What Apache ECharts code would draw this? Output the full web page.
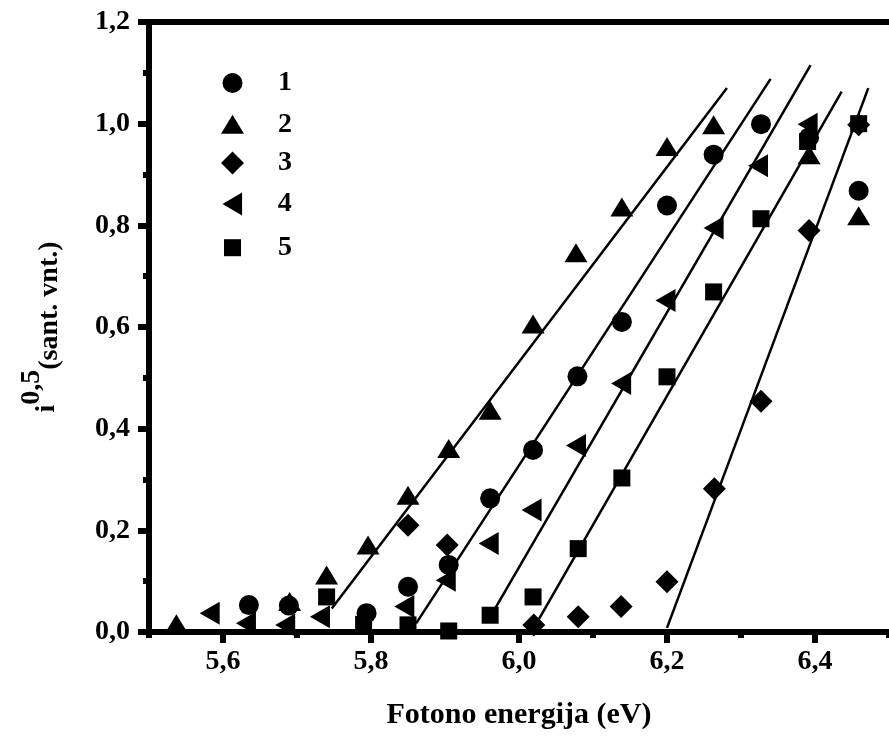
<!DOCTYPE html>
<html lang="lt">

<head>
    <meta charset="UTF-8">
    <title>Fotono energija</title>
    <script src="https://cdn.jsdelivr.net/npm/echarts@6.0.0/dist/echarts.min.js"></script>
    <style>
        html, body {
            margin: 0;
            padding: 0;
            background: #fff;
        }

        #main {
            width: 889px;
            height: 736px;
        }
    </style>
</head>

<body>
    <div id="main"></div>

    <script>
        // measured points, one pair of arrays per sample
        const s1x = [5.635, 5.689, 5.794, 5.85, 5.905, 5.961, 6.019, 6.079, 6.139, 6.2, 6.263, 6.327, 6.392, 6.459];
        const s1y = [0.053, 0.052, 0.037, 0.089, 0.132, 0.263, 0.358, 0.503, 0.61, 0.839, 0.939, 0.999, 0.973, 0.868];

        const s2x = [5.537, 5.69, 5.74, 5.796, 5.85, 5.905, 5.961, 6.019, 6.077, 6.139, 6.2, 6.263, 6.392, 6.459];
        const s2y = [0.016, 0.06, 0.112, 0.171, 0.269, 0.361, 0.436, 0.606, 0.746, 0.836, 0.955, 0.998, 0.939, 0.819];

        const s3x = [5.85, 5.903, 6.02, 6.08, 6.138, 6.2, 6.264, 6.327, 6.392, 6.459];
        const s3y = [0.21, 0.171, 0.014, 0.03, 0.05, 0.099, 0.282, 0.454, 0.79, 0.998];

        const s4x = [5.582, 5.631, 5.684, 5.731, 5.845, 5.901, 5.959, 6.017, 6.077, 6.138, 6.198, 6.263, 6.323, 6.39];
        const s4y = [0.037, 0.017, 0.014, 0.03, 0.05, 0.102, 0.174, 0.24, 0.367, 0.489, 0.652, 0.795, 0.917, 0.999];

        const s5x = [5.74, 5.79, 5.85, 5.905, 5.961, 6.019, 6.08, 6.139, 6.2, 6.263, 6.327, 6.39, 6.459];
        const s5y = [0.069, 0.015, 0.014, 0.002, 0.033, 0.069, 0.164, 0.303, 0.502, 0.669, 0.813, 0.965, 1.0];

        // straight fit lines [x, y] start and end
        const fit1 = [[5.747, 0.046], [6.281, 1.070]];
        const fit2 = [[5.861, 0.017], [6.340, 1.088]];
        const fit3 = [[5.968, 0.047], [6.394, 1.115]];
        const fit4 = [[6.024, 0.018], [6.436, 1.063]];
        const fit5 = [[6.200, 0.008], [6.472, 1.070]];

        const seriesNames = ['1', '2', '3', '4', '5'];
        const xTicks = [5.6, 5.8, 6.0, 6.2, 6.4];
        const yTicks = [0, 0.2, 0.4, 0.6, 0.8, 1.0, 1.2];

        const FONT = "'Liberation Serif', 'Times New Roman', serif";
        const leftTri = 'path://M0,10L17,0L17,20Z';

        // symbol look for each sample (style only)
        const marks = [
            { symbol: 'circle', size: [20, 20] },
            { symbol: 'triangle', size: [23, 19] },
            { symbol: 'diamond', size: [23, 23] },
            { symbol: leftTri, size: [20, 23] },
            { symbol: 'rect', size: [17, 17] }
        ];

        const xs = [s1x, s2x, s3x, s4x, s5x];
        const ys = [s1y, s2y, s3y, s4y, s5y];
        const fits = [fit1, fit2, fit3, fit4, fit5];

        const fmt = v => v.toFixed(1).replace('.', ',');
        const tickFont = { fontFamily: FONT, fontWeight: 'bold', fontSize: 28, color: '#000' };
        const nameFont = { fontFamily: FONT, fontWeight: 'bold', fontSize: 28, color: '#000', lineHeight: 28, verticalAlign: 'top' };

        let myChart = echarts.init(document.getElementById('main'));

        const lineSeries = fits.map(f => ({
            type: 'line',
            xAxisIndex: 0,
            data: f,
            showSymbol: false,
            symbol: 'none',
            silent: true,
            lineStyle: { color: '#000', width: 2.5 },
            z: 2
        }));

        const pointSeries = seriesNames.map((name, i) => ({
            name: name,
            type: 'scatter',
            xAxisIndex: 0,
            data: xs[i].map((x, j) => [x, ys[i][j]]),
            symbol: marks[i].symbol,
            symbolSize: marks[i].size,
            itemStyle: { color: '#000', opacity: 1 },
            z: 3
        }));

        // one small legend per sample so each icon keeps its own size
        const legendRow0 = 79, legendStep = 40.8, legendCx = 232.5, legendTextX = 278;
        const legends = seriesNames.map((name, i) => {
            const w = marks[i].size[0], h = marks[i].size[1];
            return {
                data: [name],
                orient: 'vertical',
                left: legendCx - w / 2,
                top: legendRow0 + legendStep * i - h / 2,
                padding: 0,
                itemWidth: w,
                itemHeight: h,
                selectedMode: false,
                formatter: '{t|{name}}',
                textStyle: {
                    rich: {
                        t: {
                            fontFamily: FONT,
                            fontWeight: 'bold',
                            fontSize: 28,
                            color: '#000',
                            lineHeight: h,
                            padding: [0, 0, 0, legendTextX - (legendCx + w / 2 + 5)]
                        }
                    }
                }
            };
        });

        option = {
            backgroundColor: '#fff',
            animation: false,
            grid: {
                left: 149,
                right: -7,
                top: 22,
                bottom: 104,
                containLabel: false
            },
            legend: legends,
            xAxis: [
                {
                    type: 'value',
                    position: 'bottom',
                    min: 5.5,
                    max: 6.5,
                    interval: 0.1,
                    axisLine: { lineStyle: { color: '#000', width: 6 } },
                    axisTick: { length: 6, lineStyle: { color: '#000', width: 6 } },
                    axisLabel: { show: false },
                    splitLine: { show: false },
                    name: 'Fotono energija (eV)',
                    nameLocation: 'middle',
                    nameGap: 68,
                    nameTextStyle: {
                        fontFamily: FONT,
                        fontWeight: 'bold',
                        fontSize: 30,
                        color: '#000',
                        verticalAlign: 'top'
                    }
                },
                {
                    type: 'value',
                    position: 'bottom',
                    min: 5.5,
                    max: 6.5,
                    axisLine: { show: false },
                    axisTick: { customValues: xTicks, length: 11, lineStyle: { color: '#000', width: 6 } },
                    axisLabel: Object.assign({ customValues: xTicks, formatter: fmt, margin: 16 }, tickFont),
                    splitLine: { show: false }
                },
                {
                    type: 'value',
                    position: 'top',
                    min: 5.5,
                    max: 6.5,
                    axisLine: { lineStyle: { color: '#000', width: 6 } },
                    axisTick: { show: false },
                    axisLabel: { show: false },
                    splitLine: { show: false }
                }
            ],
            yAxis: {
                type: 'value',
                min: 0,
                max: 1.2,
                interval: 0.2,
                axisLine: { lineStyle: { color: '#000', width: 6 } },
                axisTick: { length: 11, lineStyle: { color: '#000', width: 6 } },
                minorTick: { show: true, splitNumber: 2, length: 6, lineStyle: { color: '#000', width: 6 } },
                axisLabel: Object.assign({ customValues: yTicks, formatter: fmt, margin: 19 }, tickFont),
                splitLine: { show: false },
                minorSplitLine: { show: false },
                // i with 0,5 raised and the unit slightly lowered
                name: '{i|i}{sup|0,5}{sub|(sant. vnt.)}',
                nameLocation: 'middle',
                nameRotate: 90,
                nameGap: 103,
                nameTextStyle: {
                    rich: {
                        sup: Object.assign({}, nameFont),
                        i: Object.assign({ padding: [15, 0, 0, 0] }, nameFont),
                        sub: Object.assign({ padding: [18, 0, 0, 0] }, nameFont)
                    }
                }
            },
            series: lineSeries.concat(pointSeries)
        };

        myChart.setOption(option);
    </script>

</body>

</html>
